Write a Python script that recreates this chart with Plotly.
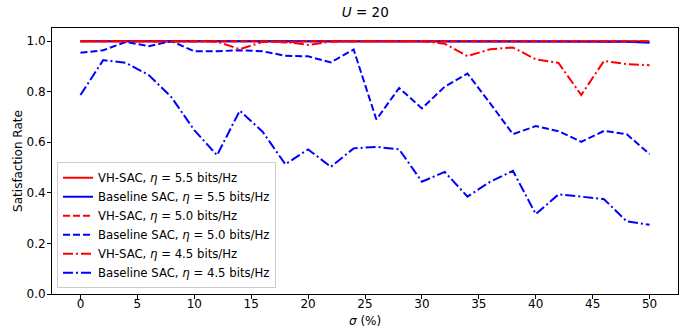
import plotly.graph_objects as go

sigma = list(range(0, 51, 2))

vh_55 = [1.0] * 26
base_55 = [1.0] * 24 + [0.998, 0.994]
vh_50 = [1.0, 1.0, 1.0, 1.0, 1.0, 1.0, 1.0, 1.0, 1.0, 0.995, 1.0, 1.0, 1.0,
         1.0, 0.998, 1.0, 1.0, 1.0, 1.0, 1.0, 1.0, 1.0, 1.0, 1.0, 1.0, 1.0]
base_50 = [0.954, 0.964, 0.997, 0.980, 1.0, 0.960, 0.960, 0.964, 0.960, 0.942,
           0.940, 0.916, 0.967, 0.690, 0.815, 0.734, 0.820, 0.872, 0.754, 0.632,
           0.664, 0.644, 0.602, 0.645, 0.632, 0.553]
vh_45 = [1.0, 1.0, 1.0, 1.0, 1.0, 1.0, 0.998, 0.968, 0.997, 0.998, 0.985, 0.998,
         1.0, 1.0, 1.0, 1.0, 0.99, 0.941, 0.968, 0.975, 0.928, 0.914, 0.787,
         0.922, 0.909, 0.905]
base_45 = [0.787, 0.925, 0.914, 0.866, 0.778, 0.648, 0.549, 0.725, 0.642, 0.513,
           0.572, 0.503, 0.576, 0.582, 0.572, 0.444, 0.483, 0.385, 0.444, 0.487,
           0.316, 0.394, 0.385, 0.375, 0.287, 0.274]

series = [
    ("VH-SAC, <i>η</i> = 5.5 bits/Hz", vh_55, "red", "solid"),
    ("Baseline SAC, <i>η</i> = 5.5 bits/Hz", base_55, "blue", "solid"),
    ("VH-SAC, <i>η</i> = 5.0 bits/Hz", vh_50, "red", "7px,3px"),
    ("Baseline SAC, <i>η</i> = 5.0 bits/Hz", base_50, "blue", "7px,3px"),
    ("VH-SAC, <i>η</i> = 4.5 bits/Hz", vh_45, "red", "10px,3px,2px,3px"),
    ("Baseline SAC, <i>η</i> = 4.5 bits/Hz", base_45, "blue", "10px,3px,2px,3px"),
]

fig = go.Figure()
for name, ys, color, dash in series:
    fig.add_trace(go.Scatter(x=sigma, y=ys, mode="lines", name=name,
                             line=dict(color=color, width=2, dash=dash)))

FS = 12
axis_common = dict(showline=True, mirror=True, linecolor="black", linewidth=1,
                   ticks="outside", ticklen=4, tickcolor="black", showgrid=False,
                   zeroline=False, automargin=False,
                   tickfont=dict(size=FS, color="black"))

fig.update_layout(
    width=686, height=328,
    margin=dict(l=52, r=8, t=28, b=34),
    paper_bgcolor="white", plot_bgcolor="white",
    font=dict(family="DejaVu Sans", size=FS, color="black"),
    title=dict(text="<i>U</i> = 20", x=0.5325, xanchor="center", y=0.962,
               yanchor="middle", font=dict(size=13.5)),
    xaxis=dict(range=[-2.5, 52.5], tickvals=list(range(0, 51, 5)),
               ticklabelstandoff=-5, **axis_common),
    yaxis=dict(range=[0, 1.052], tickvals=[0, 0.2, 0.4, 0.6, 0.8, 1.0],
               tickformat=".1f", ticklabelstandoff=-1, **axis_common),
    legend=dict(x=0.008, y=0.022, xanchor="left", yanchor="bottom",
                bgcolor="rgba(255,255,255,0.8)", bordercolor="#cccccc",
                borderwidth=1, font=dict(size=11.7), itemwidth=30,
                tracegroupgap=0),
    showlegend=True,
    annotations=[
        dict(text="<i>σ</i> (%)", xref="paper", yref="paper", x=0.5, y=-0.102,
             xanchor="center", yanchor="middle", showarrow=False,
             font=dict(size=FS)),
        dict(text="Satisfaction Rate", xref="paper", yref="paper", x=-0.0545,
             y=0.5, xanchor="center", yanchor="middle", textangle=-90,
             showarrow=False, font=dict(size=FS)),
    ],
)

fig.write_html("out.html")
